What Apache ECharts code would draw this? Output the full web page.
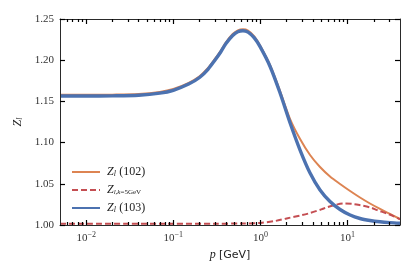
<!DOCTYPE html>
<html><head><meta charset="utf-8">
<script src="https://cdn.jsdelivr.net/npm/echarts@6/dist/echarts.min.js"></script>
<style>html,body{margin:0;padding:0;background:#fff}#c{width:415px;height:277px}</style>
</head><body><div id="c"></div>
<script>
// ---- data ----
const p102 = [0.005,0.01,0.02,0.04,0.07,0.1,0.15,0.2,0.25,0.3,0.35,0.4,0.48,0.55,0.63,0.72,0.85,0.99,1.29,1.68,2.19,2.85,3.71,4.83,6.29,8.20,10.7,13.9,18.1,23.6,30.7,40];
const z102 = [1.158,1.158,1.1582,1.159,1.1615,1.165,1.1725,1.1805,1.1905,1.2015,1.2115,1.2215,1.2317,1.2362,1.2375,1.236,1.229,1.2178,1.194,1.1625,1.1286,1.1044,1.085,1.0704,1.0589,1.0498,1.0413,1.0334,1.0261,1.0195,1.0134,1.0073];
const pK5 = [0.005,0.01,0.03,0.1,0.3,0.6,1.0,1.5,2.0,3.0,3.71,5.0,5.77,7.0,8.95,11.6,14,18.1,22,28.2,34,40];
const zK5 = [1.0015,1.0015,1.0015,1.0015,1.0016,1.0018,1.0025,1.005,1.008,1.012,1.0145,1.019,1.0214,1.024,1.026,1.0255,1.024,1.0214,1.018,1.014,1.0105,1.0068];
const p103 = [0.005,0.01,0.02,0.04,0.07,0.1,0.15,0.2,0.25,0.3,0.35,0.4,0.48,0.55,0.63,0.72,0.85,0.99,1.29,1.68,2.19,2.85,3.71,4.83,6.29,8.20,10.7,13.9,18.1,23.6,30.7,40];
const z103 = [1.1565,1.1565,1.1567,1.1575,1.160,1.1635,1.171,1.179,1.189,1.200,1.210,1.220,1.230,1.2345,1.2358,1.234,1.227,1.2164,1.1924,1.1602,1.1238,1.091,1.0631,1.0425,1.0285,1.0188,1.0121,1.0079,1.0055,1.0039,1.0029,1.0022];
const seriesNames = ['Z_l (102)', 'Z_l,k=5GeV', 'Z_l (103)'];
const xMajorTicks = [0.01, 0.1, 1, 10];
const xMinorTicks = [0.006,0.007,0.008,0.009,0.02,0.03,0.04,0.05,0.06,0.07,0.08,0.09,0.2,0.3,0.4,0.5,0.6,0.7,0.8,0.9,2,3,4,5,6,7,8,9,20,30];
const yTicks = [1.00, 1.05, 1.10, 1.15, 1.20, 1.25];

const serif = 'Liberation Serif';
const axisColor = '#2a2a2a';
const richMath = {
  i: {fontFamily: serif, fontStyle: 'italic', fontSize: 12, color: '#222'},
  s: {fontFamily: serif, fontStyle: 'italic', fontSize: 8, color: '#222', padding: [0,0,-4,0]},
  ss: {fontFamily: serif, fontSize: 7, color: '#222', padding: [0,0,-4,0]},
  ssi: {fontFamily: serif, fontStyle: 'italic', fontSize: 7, color: '#222', padding: [0,0,-4,0]},
  n: {fontFamily: serif, fontSize: 12, color: '#222'},
  g: {fontFamily: 'DejaVu Sans', fontSize: 11, color: '#222'}
};

const chart = echarts.init(document.getElementById('c'), null, {renderer: 'canvas'});
const grid = {left: 60, right: 15, top: 19, bottom: 52};
function tickStyle() { return {color: '#000000', width: 1.2}; }
function xAx(opts) {
  return Object.assign({
    type: 'log', logBase: 10, min: 0.005, max: 40, gridIndex: 0, z: 5,
    splitLine: {show: false},
    axisLine: {show: true, onZero: false, lineStyle: {color: axisColor, width: 1}},
    axisLabel: {show: false},
    axisTick: {show: false}
  }, opts);
}
function yAx(opts) {
  return Object.assign({
    type: 'value', min: 1.0, max: 1.25, interval: 0.05, z: 5,
    splitLine: {show: false},
    axisLine: {show: true, lineStyle: {color: axisColor, width: 1}},
    axisTick: {show: true, inside: true, length: 5, lineStyle: tickStyle()},
    axisLabel: {show: false}
  }, opts);
}
const option = {
  animation: false,
  grid: grid,
  xAxis: [
    xAx({position: 'bottom',
      axisTick: {show: true, inside: true, length: 5, customValues: xMajorTicks, lineStyle: tickStyle()},
      axisLabel: {show: true, customValues: xMajorTicks, margin: 6,
        formatter: v => '{b|10}{e|' + String(Math.round(Math.log10(v))).replace('-', '−') + '}',
        rich: {b: {fontFamily: serif, fontSize: 11, color: '#333'},
               e: {fontFamily: serif, fontSize: 8, color: '#333', padding: [0,0,6,0]}}},
      name: '{i|p} {g|[GeV]}', nameLocation: 'middle', nameGap: 24,
      nameTextStyle: {rich: richMath}}),
    xAx({position: 'bottom', axisLine: {show: false},
      axisTick: {show: true, inside: true, length: 3, customValues: xMinorTicks, lineStyle: tickStyle()}}),
    xAx({position: 'top',
      axisTick: {show: true, inside: true, length: 5, customValues: xMajorTicks, lineStyle: tickStyle()}}),
    xAx({position: 'top', axisLine: {show: false},
      axisTick: {show: true, inside: true, length: 3, customValues: xMinorTicks, lineStyle: tickStyle()}})
  ],
  yAxis: [
    yAx({position: 'left',
     axisLabel: {show: true, margin: 6, fontFamily: serif, fontSize: 11, color: '#333', formatter: v => v.toFixed(2)},
     name: '{i|Z}{s|l}', nameLocation: 'middle', nameGap: 32, nameRotate: 90,
     nameTextStyle: {rich: richMath}}),
    yAx({position: 'right'})
  ],
  legend: {
    orient: 'vertical', left: 66, top: 161, itemWidth: 28, itemHeight: 14, itemGap: 6,
    data: seriesNames,
    itemStyle: {opacity: 0},
    formatter: function (name) {
      if (name === seriesNames[0]) return '{i|Z}{s|l} {n|(102)}';
      if (name === seriesNames[1]) return '{i|Z}{ssi|l}{ss|,}{ssi|k}{ss|=5GeV}';
      return '{i|Z}{s|l} {n|(103)}';
    },
    textStyle: {rich: richMath, padding: [0,0,0,2]}
  },
  series: [
    {name: seriesNames[0], type: 'line', xAxisIndex: 0, yAxisIndex: 0, showSymbol: false, symbol: 'none', smooth: 0.3,
     data: p102.map((p, i) => [p, z102[i]]),
     lineStyle: {color: '#dd8452', width: 2}, itemStyle: {color: '#dd8452'}},
    {name: seriesNames[1], type: 'line', xAxisIndex: 0, yAxisIndex: 0, showSymbol: false, symbol: 'none', smooth: 0.3,
     data: pK5.map((p, i) => [p, zK5[i]]),
     lineStyle: {color: '#c44e52', width: 2, type: [6, 3]}, itemStyle: {color: '#c44e52'}},
    {name: seriesNames[2], type: 'line', xAxisIndex: 0, yAxisIndex: 0, showSymbol: false, symbol: 'none', smooth: 0.3,
     data: p103.map((p, i) => [p, z103[i]]),
     lineStyle: {color: '#4c72b0', width: 3.4}, itemStyle: {color: '#4c72b0'}}
  ]
};
chart.setOption(option);
</script></body></html>
